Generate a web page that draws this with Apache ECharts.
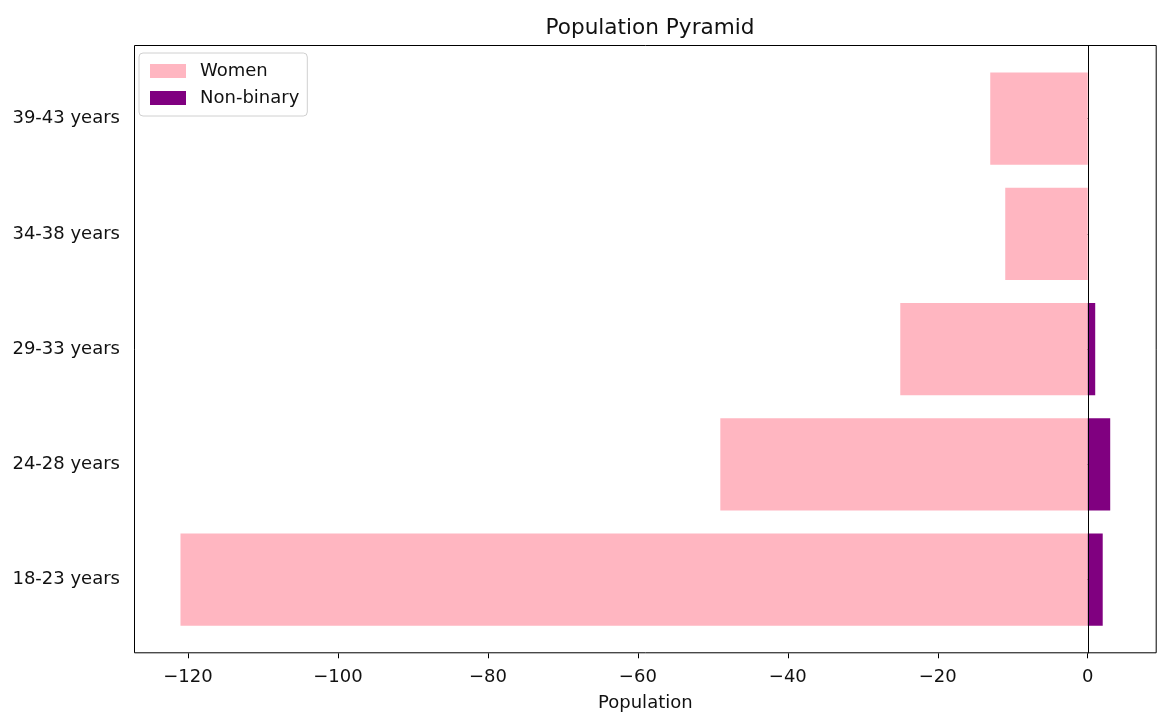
<!DOCTYPE html>
<html>
<head>
<meta charset="utf-8">
<title>Population Pyramid</title>
<script src="https://cdn.jsdelivr.net/npm/echarts@6/dist/echarts.min.js"></script>
<style>
  html, body { margin: 0; padding: 0; background: #fff; }
  #chart { width: 1160px; height: 713px; }
</style>
</head>
<body>
<div id="chart"></div>
<script>
// Age groups, bottom to top
const ageGroups = ['18-23 years', '24-28 years', '29-33 years', '34-38 years', '39-43 years'];
// Head counts per age group
const women = [121, 49, 25, 11, 13];
const nonBinary = [2, 3, 1, 0, 0];
// Tick values on the population axis
const popTicks = [-120, -100, -80, -60, -40, -20, 0];

const FONT = 'DejaVu Sans';
const INK = '#111';

// Frame of the plotting area (the category bands sit inside it with a margin)
const frame = { x: 134, y: 45, w: 1022.7, h: 608.3 };

const chart = echarts.init(document.getElementById('chart'), null, { renderer: 'canvas' });

const fmt = v => (v < 0 ? '\u2212' + Math.abs(v) : String(v));

chart.setOption({
  animation: false,
  backgroundColor: '#fff',
  textStyle: { fontFamily: FONT },
  title: {
    text: 'Population Pyramid',
    left: 645,
    textAlign: 'center',
    top: 12,
    textStyle: { fontFamily: FONT, fontSize: 21.6, fontWeight: 'normal', color: INK }
  },
  legend: {
    orient: 'vertical',
    left: 139,
    top: 53,
    itemWidth: 36,
    itemHeight: 14,
    itemGap: 9,
    padding: [9, 8, 9, 11],
    borderColor: '#d0d0d0',
    borderWidth: 1,
    borderRadius: 4,
    backgroundColor: 'rgba(255,255,255,0.8)',
    icon: 'rect',
    textStyle: { fontFamily: FONT, fontSize: 18, color: INK, padding: [0, 0, 0, 9] },
    data: ['Women', 'Non-binary']
  },
  grid: {
    left: 134,
    right: 3.3,
    top: 61.1,
    height: 576.1,
    containLabel: false,
    outerBoundsMode: 'none'
  },
  xAxis: {
    type: 'value',
    min: -127.2,
    max: 9.2,
    offset: 16.1,
    name: 'Population',
    nameLocation: 'middle',
    nameGap: 41,
    nameTextStyle: { fontFamily: FONT, fontSize: 18, color: INK },
    axisLine: { show: false },
    axisTick: {
      show: true, length: 5, inside: false,
      customValues: popTicks,
      lineStyle: { color: '#000', width: 1 }
    },
    axisLabel: {
      customValues: popTicks,
      formatter: fmt,
      margin: 15,
      fontFamily: FONT, fontSize: 18, color: INK
    },
    splitLine: { show: false }
  },
  yAxis: {
    type: 'category',
    data: ageGroups,
    boundaryGap: true,
    axisLine: { show: false },
    axisTick: { show: true, alignWithLabel: true, length: 5, lineStyle: { color: '#000' } },
    axisLabel: { fontFamily: FONT, fontSize: 18, color: INK, margin: 14 },
    splitLine: { show: false }
  },
  series: [
    {
      name: 'Women',
      type: 'bar',
      barWidth: '80%',
      barGap: '-100%',
      itemStyle: { color: '#FFB6C1' },
      data: women.map(v => -v)
    },
    {
      name: 'Non-binary',
      type: 'bar',
      barWidth: '80%',
      barGap: '-100%',
      itemStyle: { color: '#800080' },
      data: nonBinary
    }
  ]
});

// Frame and the zero line spanning the full plotting area
const zeroX = chart.convertToPixel({ xAxisIndex: 0 }, 0);
chart.setOption({
  graphic: [
    {
      type: 'rect',
      silent: true,
      z: 10,
      shape: { x: frame.x + 0.5, y: frame.y + 0.5, width: frame.w - 1, height: frame.h - 1 },
      style: { fill: 'none', stroke: '#000', lineWidth: 1 }
    },
    {
      type: 'line',
      silent: true,
      z: 10,
      shape: { x1: Math.round(zeroX) + 0.5, y1: frame.y, x2: Math.round(zeroX) + 0.5, y2: frame.y + frame.h },
      style: { stroke: '#000', lineWidth: 1 }
    }
  ]
});
</script>
</body>
</html>
